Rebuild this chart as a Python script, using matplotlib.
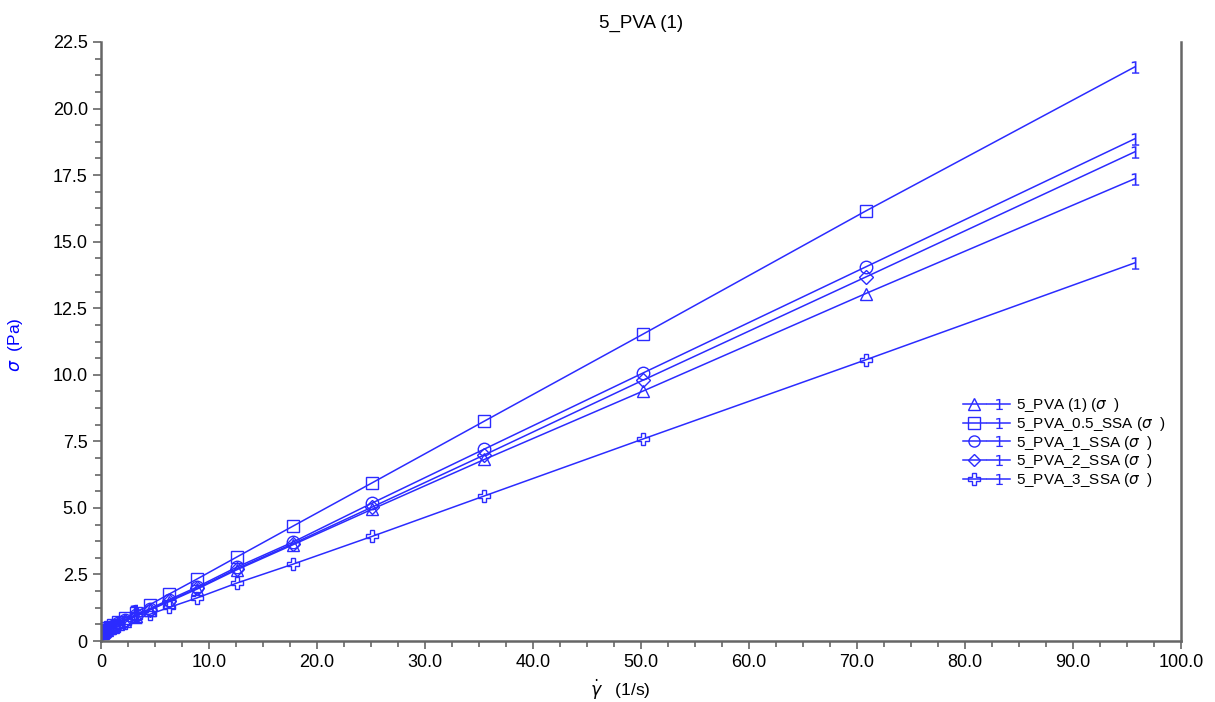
import matplotlib
matplotlib.use("Agg")
import matplotlib.pyplot as plt
from matplotlib.lines import Line2D
from matplotlib.legend_handler import HandlerTuple
from matplotlib.ticker import MultipleLocator, FuncFormatter

plt.rcParams["font.family"] = ["Liberation Sans", "DejaVu Sans"]
plt.rcParams["mathtext.fontset"] = "dejavusans"

# shear rate (1/s), last point first as in the export
shear_rate = [95.7, 70.8, 50.2, 35.5, 25.1, 17.8, 12.6, 8.9, 6.3, 4.5, 3.2,
              2.2, 1.6, 1.1, 0.8, 0.56, 0.4, 0.28, 0.2, 0.14, 0.1]

# shear stress (Pa)
pva_1 = [17.36, 13.05, 9.39, 6.82, 4.95, 3.62, 2.68, 1.95, 1.48, 1.16, 0.93,
         0.76, 0.63, 0.54, 0.47, 0.42, 0.38, 0.35, 0.33, 0.31, 0.30]
pva_05_ssa = [21.56, 16.15, 11.53, 8.26, 5.94, 4.32, 3.16, 2.33, 1.76, 1.36, 1.07,
              0.85, 0.71, 0.60, 0.53, 0.47, 0.43, 0.40, 0.38, 0.36, 0.35]
pva_1_ssa = [18.86, 14.05, 10.07, 7.21, 5.18, 3.72, 2.78, 2.03, 1.55, 1.21, 0.97,
             0.79, 0.66, 0.56, 0.49, 0.44, 0.40, 0.37, 0.35, 0.33, 0.32]
pva_2_ssa = [18.37, 13.67, 9.80, 6.99, 5.03, 3.66, 2.72, 1.98, 1.51, 1.18, 0.94,
             0.77, 0.64, 0.55, 0.48, 0.43, 0.39, 0.36, 0.34, 0.32, 0.31]
pva_3_ssa = [14.20, 10.56, 7.59, 5.45, 3.93, 2.89, 2.18, 1.62, 1.26, 1.00, 1.02,
             0.68, 0.58, 0.50, 0.44, 0.40, 0.37, 0.34, 0.32, 0.30, 0.29]

series = [
    ("5_PVA (1) ($\\sigma$  )", pva_1, "^"),
    ("5_PVA_0.5_SSA ($\\sigma$  )", pva_05_ssa, "s"),
    ("5_PVA_1_SSA ($\\sigma$  )", pva_1_ssa, "o"),
    ("5_PVA_2_SSA ($\\sigma$  )", pva_2_ssa, "D"),
    ("5_PVA_3_SSA ($\\sigma$  )", pva_3_ssa, "P"),
]

blue = "#2b2bff"
one_marker = "$1$"

fig = plt.figure(figsize=(12.15, 7.02), dpi=100)
ax = fig.add_axes([101 / 1215, 1 - 641 / 702, (1181 - 101) / 1215, (641 - 42) / 702])

handles = []
for label, ys, mk in series:
    size = 7 if mk == "D" else 9
    ax.plot(shear_rate, ys, color=blue, lw=1.1, marker=mk, markersize=size,
            markerfacecolor="none", markeredgecolor=blue, markeredgewidth=1.0,
            markevery=list(range(1, len(ys))))
    ax.plot(shear_rate[0], ys[0], ls="none", marker=one_marker, markersize=9,
            markeredgewidth=0, color=blue)
    h1 = Line2D([], [], color=blue, lw=1.1, marker=mk, markersize=size - 1,
                markerfacecolor="none", markeredgecolor=blue)
    h2 = Line2D([], [], color=blue, lw=1.1, marker=one_marker, markersize=8,
                markeredgewidth=0)
    handles.append((h1, h2))

# stray "1" mark in the low shear region
ax.plot(shear_rate[10], pva_3_ssa[10], ls="none", marker=one_marker,
        markersize=14, markeredgewidth=0, color=blue)

ax.legend(handles, [s[0] for s in series], handler_map={tuple: HandlerTuple(ndivide=None, pad=0.1)},
          loc="upper left", bbox_to_anchor=((963 - 101) / 1080, (641 - 396) / 599),
          frameon=False, fontsize=11, handlelength=3.1, handletextpad=0.4,
          handleheight=0.6, labelspacing=0.05, borderaxespad=0, borderpad=0)

ax.set_xlim(0, 100)
ax.set_ylim(0, 22.5)
ax.xaxis.set_major_locator(MultipleLocator(10))
ax.xaxis.set_minor_locator(MultipleLocator(2.5))
ax.yaxis.set_major_locator(MultipleLocator(2.5))
ax.yaxis.set_minor_locator(MultipleLocator(0.625))
fmt = FuncFormatter(lambda v, p: "0" if abs(v) < 1e-9 else f"{v:.1f}")
ax.xaxis.set_major_formatter(fmt)
ax.yaxis.set_major_formatter(fmt)

for side in ["left", "bottom", "right"]:
    ax.spines[side].set_color("#666666")
    ax.spines[side].set_linewidth(1.8)
ax.spines["top"].set_visible(False)
ax.tick_params(which="both", direction="out", color="#666666", width=1.2,
               labelsize=13, right=False, top=False)
ax.tick_params(which="major", length=6)
ax.tick_params(which="minor", length=4)

ax.set_xlabel("$\\dot{\\gamma}$   (1/s)", fontsize=12.5)
ax.xaxis.set_label_coords((620 - 101) / 1080, -(678 - 641) / 599)
ax.xaxis.label.set_va("top")
ax.set_ylabel("$\\sigma$  (Pa)", fontsize=12.5, color="blue")
ax.yaxis.set_label_coords(-(101 - 25) / 1080, (641 - 345) / 599)
ax.set_title("5_PVA (1)", fontsize=13.5, pad=10)

fig.savefig("out.png", dpi=100)
